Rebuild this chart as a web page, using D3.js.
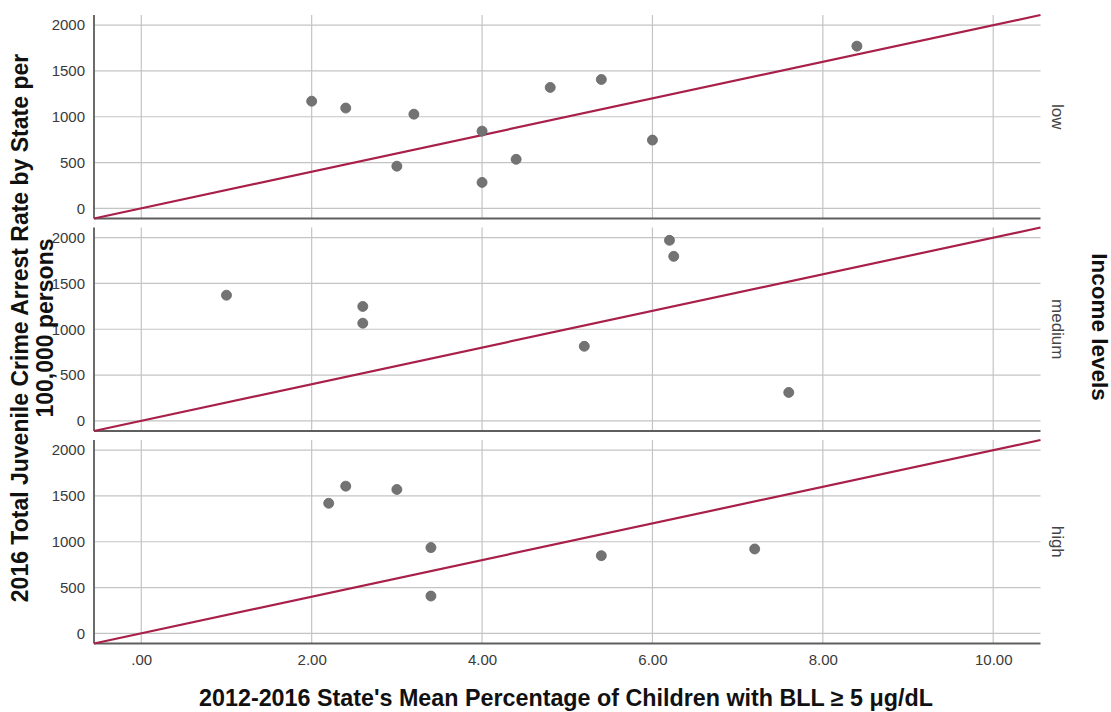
<!DOCTYPE html>
<html>
<head>
<meta charset="utf-8">
<script src="https://cdn.jsdelivr.net/npm/d3@7/dist/d3.min.js"></script>
<style>
    body { margin: 0; background: #fff; }
    svg text { font-family: "Liberation Sans", Arial, sans-serif; }
</style>
</head>
<body>
<div id="chart"></div>
<script>
//facet rows, top to bottom
const incomeLevels = ["low", "medium", "high"];

//points per facet, x = % children with BLL >= 5, y = arrest rate
const lowX = [2.0, 2.4, 3.0, 3.2, 4.0, 4.0, 4.4, 4.8, 5.4, 6.0, 8.4];
const lowY = [1170, 1095, 460, 1028, 843, 283, 535, 1320, 1407, 745, 1771];
const mediumX = [1.0, 2.6, 2.6, 5.2, 6.2, 6.25, 7.6];
const mediumY = [1372, 1249, 1066, 814, 1971, 1796, 310];
const highX = [2.2, 2.4, 3.0, 3.4, 3.4, 5.4, 7.2];
const highY = [1420, 1607, 1571, 936, 407, 848, 921];

//reference line through the origin
const refSlope = 200;

//tick labels
const xTicks = [0, 2, 4, 6, 8, 10];
const yTicks = [0, 500, 1000, 1500, 2000];

const xDomain = [-0.555, 10.555];
const yDomain = [-111, 2111];

const width = 1111;
const height = 712;
const plotLeft = 94;
const plotRight = 1040.5;
const panelTop = 15;
const panelHght = 203.5;
const panelGap = 9;

const panelData = {
    low: d3.zip(lowX, lowY),
    medium: d3.zip(mediumX, mediumY),
    high: d3.zip(highX, highY)
};

const svg = d3.select("#chart")
    .append("svg")
    .attr("width", width)
    .attr("height", height);

const x = d3.scaleLinear().domain(xDomain).range([plotLeft, plotRight]);

incomeLevels.forEach((level, i) => {
    const top = panelTop + i * (panelHght + panelGap);
    const bottom = top + panelHght;
    const y = d3.scaleLinear().domain(yDomain).range([bottom, top]);
    const g = svg.append("g").attr("class", "panel-" + level);

    //grid
    g.selectAll("line.hgrid")
      .data(yTicks).enter()
      .append("line")
        .attr("x1", plotLeft).attr("x2", plotRight)
        .attr("y1", d => y(d)).attr("y2", d => y(d))
        .attr("stroke", "#c4c4c4")
        .attr("stroke-width", 1.2);

    g.selectAll("line.vgrid")
      .data(xTicks).enter()
      .append("line")
        .attr("x1", d => x(d)).attr("x2", d => x(d))
        .attr("y1", top).attr("y2", bottom)
        .attr("stroke", "#c4c4c4")
        .attr("stroke-width", 1.2);

    //y axis labels
    const yAxis = d3.axisLeft(y)
        .tickValues(yTicks)
        .tickSize(0)
        .tickPadding(9)
        .tickFormat(d3.format("d"));

    g.append("g")
        .attr("transform", `translate(${plotLeft},0)`)
        .call(yAxis)
        .call(a => a.select(".domain").remove())
        .selectAll("text")
          .attr("font-size", 15)
          .attr("fill", "#3a3a3a");

    //axis lines
    g.append("line")
        .attr("x1", plotLeft).attr("x2", plotLeft)
        .attr("y1", top).attr("y2", bottom)
        .attr("stroke", "#6b6b6b")
        .attr("stroke-width", 2);

    g.append("line")
        .attr("x1", plotLeft).attr("x2", plotRight)
        .attr("y1", bottom).attr("y2", bottom)
        .attr("stroke", "#5e5e5e")
        .attr("stroke-width", 2);

    //reference line
    g.append("line")
        .attr("x1", x(xDomain[0])).attr("y1", y(xDomain[0] * refSlope))
        .attr("x2", x(xDomain[1])).attr("y2", y(xDomain[1] * refSlope))
        .attr("stroke", "#a8204a")
        .attr("stroke-width", 2.2);

    //points
    g.selectAll("circle")
      .data(panelData[level]).enter()
      .append("circle")
        .attr("cx", d => x(d[0]))
        .attr("cy", d => y(d[1]))
        .attr("r", 5)
        .attr("fill", "#737373")
        .attr("stroke", "#666")
        .attr("stroke-width", 0.8);

    //facet label
    g.append("text")
        .attr("transform", `translate(1052,${top + panelHght / 2}) rotate(90)`)
        .attr("text-anchor", "middle")
        .attr("font-size", 17)
        .attr("fill", "#444")
        .text(level);

    //x axis labels only under the last panel
    if (i === incomeLevels.length - 1) {
        const xAxis = d3.axisBottom(x)
            .tickValues(xTicks)
            .tickSize(0)
            .tickPadding(11)
            .tickFormat(d => d === 0 ? ".00" : d3.format(".2f")(d));

        g.append("g")
            .attr("transform", `translate(0,${bottom})`)
            .call(xAxis)
            .call(a => a.select(".domain").remove())
            .selectAll("text")
              .attr("font-size", 15)
              .attr("fill", "#3a3a3a");
    }
});

//titles
svg.append("text")
    .attr("x", (200 + 932) / 2)
    .attr("y", 706)
    .attr("text-anchor", "middle")
    .attr("font-size", 23.3)
    .attr("font-weight", "bold")
    .attr("fill", "#111")
    .text("2012-2016 State's Mean Percentage of Children with BLL \u2265 5 \u03bcg/dL");

const yTitle = svg.append("text")
    .attr("transform", "translate(28,328) rotate(-90)")
    .attr("text-anchor", "middle")
    .attr("font-size", 23)
    .attr("font-weight", "bold")
    .attr("fill", "#111");

yTitle.append("tspan")
    .attr("x", 0).attr("dy", 0)
    .text("2016 Total Juvenile Crime Arrest Rate by State per");

yTitle.append("tspan")
    .attr("x", 0).attr("dy", 25)
    .text("100,000 persons");

svg.append("text")
    .attr("transform", "translate(1092,327) rotate(90)")
    .attr("text-anchor", "middle")
    .attr("font-size", 22.5)
    .attr("font-weight", "bold")
    .attr("fill", "#111")
    .text("Income levels");
</script>
</body>
</html>
